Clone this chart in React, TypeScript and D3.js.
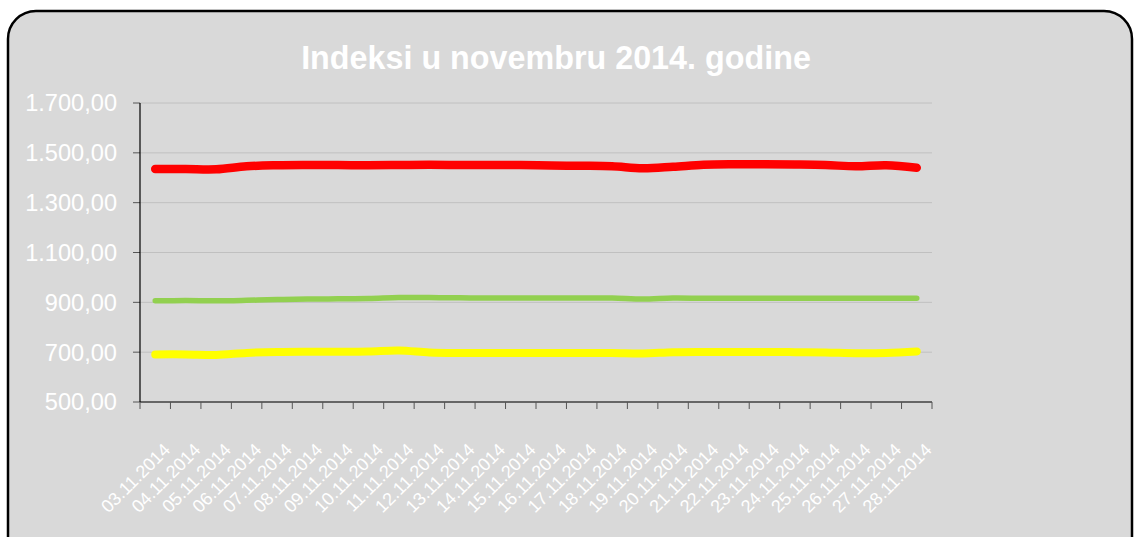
import React from "react";
import * as d3 from "d3";

const dates = [
  "03.11.2014", "04.11.2014", "05.11.2014", "06.11.2014", "07.11.2014", "08.11.2014",
  "09.11.2014", "10.11.2014", "11.11.2014", "12.11.2014", "13.11.2014", "14.11.2014",
  "15.11.2014", "16.11.2014", "17.11.2014", "18.11.2014", "19.11.2014", "20.11.2014",
  "21.11.2014", "22.11.2014", "23.11.2014", "24.11.2014", "25.11.2014", "26.11.2014",
  "27.11.2014", "28.11.2014",
];

const redSeries = [1435, 1435, 1434, 1446, 1450, 1451, 1451, 1450, 1451, 1452, 1451, 1451, 1451,
  1449, 1448, 1446, 1438, 1444, 1452, 1454, 1454, 1453, 1451, 1446, 1450, 1440];
const greenSeries = [906, 907, 906, 908, 911, 913, 914, 915, 919, 919, 918, 917, 917,
  917, 917, 917, 913, 917, 916, 916, 916, 916, 916, 916, 916, 916];
const yellowSeries = [691, 691, 689, 697, 701, 702, 702, 703, 707, 699, 697, 697, 697,
  697, 697, 697, 695, 700, 701, 701, 701, 700, 699, 696, 697, 703];

const yTicks = [500, 700, 900, 1100, 1300, 1500, 1700];
const title = "Indeksi u novembru 2014. godine";

const W = 1134;
const H = 537;
const left = 140;
const right = 932;
const top = 103;
const bottom = 402;

const locale = d3.formatLocale({ decimal: ",", thousands: ".", grouping: [3], currency: ["", ""] });
const fmt = locale.format(",.2f");

export default function App() {
  const x = d3.scaleBand<string>().domain(dates).range([left, right]).paddingInner(0).paddingOuter(0);
  const y = d3.scaleLinear().domain([500, 1700]).range([bottom, top]);
  const cx = (d: string) => (x(d) ?? 0) + x.bandwidth() / 2;
  const line = d3
    .line<number>()
    .x((_, i) => cx(dates[i]))
    .y((v) => y(v))
    .curve(d3.curveCatmullRom.alpha(0.5));

  const series = [
    { values: redSeries, color: "#ff0000", width: 8.5 },
    { values: greenSeries, color: "#92d050", width: 5.5 },
    { values: yellowSeries, color: "#ffff00", width: 8 },
  ];

  const boundaries = dates.map((d) => x(d) ?? 0).concat([right]);
  const font = "'Liberation Sans', Arial, sans-serif";

  return (
    <svg width={W} height={H} style={{ position: "absolute", left: 0, top: 0 }} fontFamily={font}>
      <rect x={0} y={0} width={W} height={H} fill="#ffffff" />
      <rect x={8} y={11} width={1124} height={560} rx={28} ry={28} fill="#d9d9d9" stroke="#000" strokeWidth={2.5} />
      <text x={556} y={69} textAnchor="middle" fill="#ffffff" fontWeight="bold" fontSize={32.3}>
        {title}
      </text>
      {yTicks.map((t) => (
        <g key={t}>
          <line x1={left} x2={right} y1={y(t)} y2={y(t)} stroke="#c0c0c0" strokeWidth={1} />
          <line x1={left - 7} x2={left} y1={y(t)} y2={y(t)} stroke="#555" strokeWidth={1} />
          <text x={117} y={y(t)} dy="0.36em" textAnchor="end" fill="#ffffff" fontSize={23.6}>
            {fmt(t)}
          </text>
        </g>
      ))}
      <line x1={left} x2={left} y1={top} y2={bottom} stroke="#000" strokeWidth={1.2} />
      <line x1={left} x2={right} y1={bottom} y2={bottom} stroke="#000" strokeWidth={1.2} />
      {boundaries.map((b, i) => (
        <line key={i} x1={b} x2={b} y1={bottom} y2={bottom + 7} stroke="#555" strokeWidth={1} />
      ))}
      {dates.map((d) => {
        const px = cx(d) + 16;
        const py = 451;
        return (
          <text key={d} x={px} y={py} textAnchor="end" fill="#ffffff" fontSize={18}
            transform={`rotate(-45 ${px} ${py})`}>
            {d}
          </text>
        );
      })}
      {series.map((s, i) => (
        <path key={i} d={line(s.values) ?? ""} fill="none" stroke={s.color} strokeWidth={s.width}
          strokeLinecap="round" strokeLinejoin="round" />
      ))}
    </svg>
  );
}
